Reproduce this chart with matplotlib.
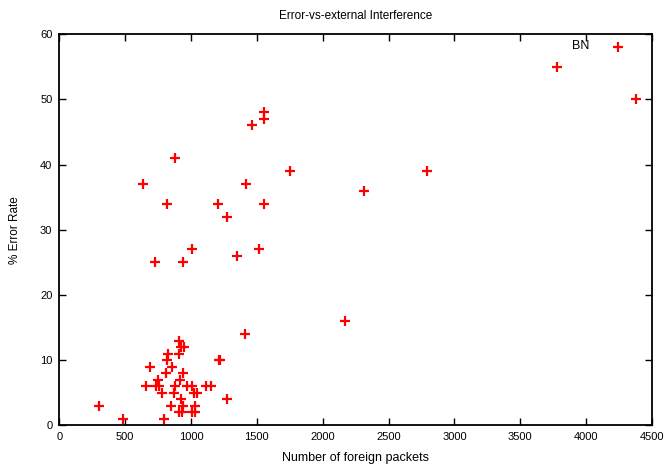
import matplotlib
matplotlib.use("Agg")
import matplotlib.pyplot as plt

# Number of foreign packets vs. % error rate
packets = [
    4242, 3776, 4376, 1557, 1553, 1459, 878, 1753, 2795, 633, 1418, 2316,
    820, 1203, 1555, 1276, 1010, 1519, 1347, 726, 941, 2171, 1406,
    909, 921, 947, 827, 909, 815, 1210, 1221, 688, 853, 937, 807, 916, 752,
    658, 734, 759, 876, 972, 1005, 1114, 1154, 779, 871, 1023, 1043, 1276,
    921, 845, 941, 1033, 300, 906, 932, 1008, 1033, 792, 480,
]
error_rate = [
    58, 55, 50, 48, 47, 46, 41, 39, 39, 37, 37, 36,
    34, 34, 34, 32, 27, 27, 26, 25, 25, 16, 14,
    13, 12, 12, 11, 11, 10, 10, 10, 9, 9, 8, 8, 7, 7,
    6, 6, 6, 6, 6, 6, 6, 6, 5, 5, 5, 5, 4,
    4, 3, 3, 3, 3, 2, 2, 2, 2, 1, 1,
]
x_ticks = [0, 500, 1000, 1500, 2000, 2500, 3000, 3500, 4000, 4500]
y_ticks = [0, 10, 20, 30, 40, 50, 60]

plt.rcParams["font.family"] = ["Liberation Sans", "DejaVu Sans"]

fig = plt.figure(figsize=(6.67, 4.68), dpi=100)
ax = fig.add_axes([0.089, 0.091, 0.8885, 0.836])

ax.plot(packets, error_rate, linestyle="None", marker="+", color="red",
        markersize=7, markeredgewidth=1.6, clip_on=False)

ax.text(3958, 58.2, "BN", ha="center", va="center", fontsize=9)

ax.set_xlim(0, 4500)
ax.set_ylim(0, 60)
ax.set_xticks(x_ticks)
ax.set_yticks(y_ticks)
ax.tick_params(direction="in", top=True, right=True, length=5, width=1,
               labelsize=8, pad=5)
for s in ax.spines.values():
    s.set_linewidth(1.3)

ax.set_title("Error-vs-external Interference", fontsize=8.5, pad=11)
ax.set_xlabel("Number of foreign packets", fontsize=9, labelpad=7)
ax.set_ylabel("% Error Rate", fontsize=8.5, labelpad=14)

fig.savefig("out.png", dpi=100)
